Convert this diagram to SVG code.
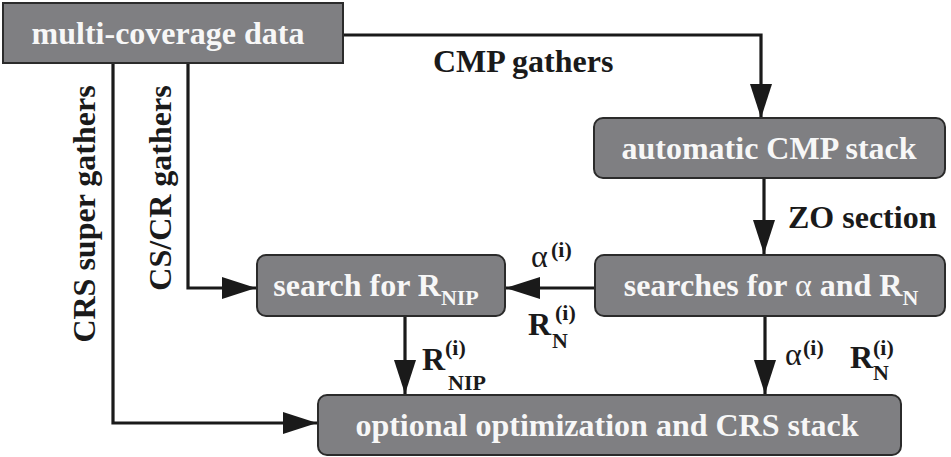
<svg xmlns="http://www.w3.org/2000/svg" width="951" height="457" viewBox="0 0 951 457" font-family="Liberation Serif, DejaVu Serif, serif">
<defs>
<style>
.box{fill:#7f7f82;stroke:#2b2b2b;stroke-width:2}
.bt{font-weight:bold;font-size:32px;fill:#f7f7f7;text-anchor:middle}
.lb{font-weight:bold;font-size:32px;fill:#1a1a1a}
.sm{font-size:22px}
.gr{font-weight:normal}
.ln{fill:none;stroke:#1a1a1a;stroke-width:3.2}
</style>
<marker id="ah" markerUnits="userSpaceOnUse" markerWidth="36" markerHeight="24" refX="34" refY="11" orient="auto">
<path d="M0,0 L34,11 L0,22 Z" fill="#1a1a1a"/>
</marker>
</defs>
<g id="connectors">
<path class="ln" d="M343,35 H761 V118" marker-end="url(#ah)"/>
<path class="ln" d="M764,178 V254" marker-end="url(#ah)"/>
<path class="ln" d="M595,288 H506" marker-end="url(#ah)"/>
<path class="ln" d="M405,316 V394" marker-end="url(#ah)"/>
<path class="ln" d="M765,316 V394" marker-end="url(#ah)"/>
<path class="ln" d="M188,63 V288 H256" marker-end="url(#ah)"/>
<path class="ln" d="M113,63 V423 H317" marker-end="url(#ah)"/>
<text class="lb" x="433" y="72">CMP gathers</text>
<text class="lb" x="788" y="228">ZO section</text>
<text class="lb" transform="translate(95,214) rotate(-90)" text-anchor="middle">CRS super gathers</text>
<text class="lb" transform="translate(171,188) rotate(-90)" text-anchor="middle">CS/CR gathers</text>
<text class="lb"><tspan class="gr" x="531" y="267">α</tspan><tspan class="sm" x="551" y="257">(i)</tspan></text>
<text class="lb"><tspan x="528" y="335">R</tspan><tspan class="sm" x="555" y="320">(i)</tspan><tspan class="sm" x="552" y="348">N</tspan></text>
<text class="lb"><tspan x="422" y="370">R</tspan><tspan class="sm" x="445" y="355">(i)</tspan><tspan class="sm" x="448" y="390">NIP</tspan></text>
<text class="lb"><tspan class="gr" x="785" y="365">α</tspan><tspan class="sm" x="803" y="355">(i)</tspan></text>
<text class="lb"><tspan x="850" y="368">R</tspan><tspan class="sm" x="873" y="355">(i)</tspan><tspan class="sm" x="873" y="380">N</tspan></text>
</g>
<g id="n1">
<rect class="box" x="3" y="3" width="340" height="60"/>
<text class="bt" x="168" y="44">multi-coverage data</text>
</g>
<g id="n2">
<rect class="box" x="594" y="118" width="351" height="60" rx="9"/>
<text class="bt" x="769" y="159">automatic CMP stack</text>
</g>
<g id="n3">
<rect class="box" x="595" y="255" width="350" height="61" rx="9"/>
<text class="bt" x="771" y="296">searches for <tspan class="gr">α</tspan> and R<tspan class="sm" dy="9">N</tspan></text>
</g>
<g id="n4">
<rect class="box" x="257" y="255" width="248" height="61" rx="9"/>
<text class="bt" x="376" y="296">search for R<tspan class="sm" dy="9">NIP</tspan></text>
</g>
<g id="n5">
<rect class="box" x="318" y="395" width="583" height="60" rx="9"/>
<text class="bt" x="607" y="436">optional optimization and CRS stack</text>
</g>
</svg>
